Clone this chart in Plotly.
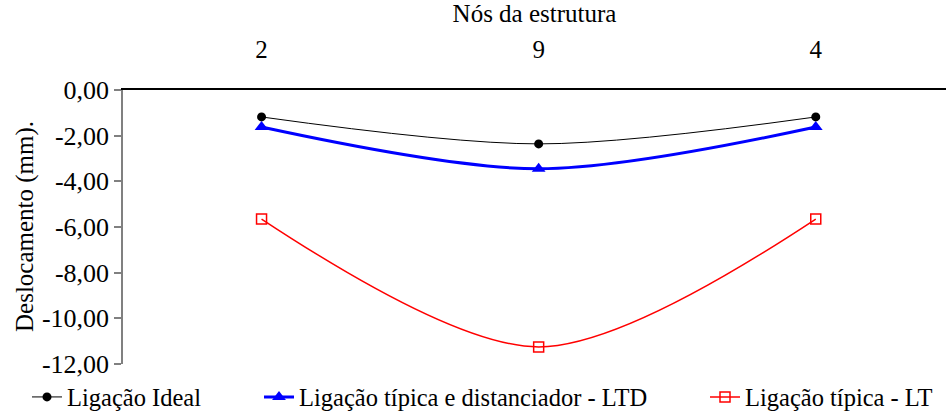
import plotly.graph_objects as go

# Nodes of the structure and vertical displacement (mm) for each connection type
nodes = ["2", "9", "4"]
ideal = [-1.18, -2.36, -1.18]
ltd = [-1.62, -3.45, -1.62]
lt = [-5.65, -11.25, -5.65]

y_ticks = [0, -2, -4, -6, -8, -10, -12]
y_tick_labels = ["0,00", "-2,00", "-4,00", "-6,00", "-8,00", "-10,00", "-12,00"]

FONT = "Liberation Serif"
FS = 25

fig = go.Figure()
fig.add_trace(go.Scatter(
    x=nodes, y=ideal, name="Ligação Ideal", mode="lines+markers",
    line=dict(color="black", width=1, shape="spline", smoothing=0.9),
    marker=dict(symbol="circle", size=9, color="black"),
    legend="legend",
))
fig.add_trace(go.Scatter(
    x=nodes, y=ltd, name="Ligação típica e distanciador - LTD", mode="lines+markers",
    line=dict(color="#0000ff", width=3, shape="spline", smoothing=0.9),
    marker=dict(symbol="triangle-up", size=12, color="#0000ff"),
    legend="legend2",
))
fig.add_trace(go.Scatter(
    x=nodes, y=lt, name="Ligação típica - LT", mode="lines+markers",
    line=dict(color="#ff0000", width=1.5, shape="spline", smoothing=0.9),
    marker=dict(symbol="square-open", size=10, color="#ff0000", line=dict(width=1.5)),
    legend="legend3",
))


def legend_box(left_px):
    return dict(
        xref="container", yref="container",
        x=left_px / 946, xanchor="left", y=1 - 397 / 412, yanchor="middle",
        font=dict(family=FONT, size=24.5, color="black"),
        bgcolor="rgba(0,0,0,0)", borderwidth=0, itemwidth=30,
    )


fig.update_layout(
    template="none",
    width=946, height=412,
    margin=dict(l=123, r=0, t=90, b=48, autoexpand=False),
    paper_bgcolor="white", plot_bgcolor="white",
    showlegend=True,
    legend=legend_box(27),
    legend2=legend_box(259),
    legend3=legend_box(705),
    xaxis=dict(
        type="category", side="top", range=[-0.5, 2.47],
        showline=True, linecolor="black", linewidth=1.5,
        showgrid=False, zeroline=False, ticks="",
        ticklabelstandoff=20,
        tickfont=dict(family=FONT, size=FS, color="black"),
        title=dict(text="Nós da estrutura", font=dict(family=FONT, size=FS, color="black"), standoff=9),
    ),
    yaxis=dict(
        range=[-12, 0], tickvals=y_ticks, ticktext=y_tick_labels,
        showline=True, linecolor="#808080", linewidth=1.5,
        ticks="outside", ticklen=7, tickcolor="#808080", tickwidth=1.5,
        showgrid=False, zeroline=False,
        tickfont=dict(family=FONT, size=26, color="black"),
    ),
    annotations=[dict(
        text="Deslocamento (mm).", textangle=-90, showarrow=False,
        xref="paper", yref="paper", x=(25 - 123) / 823, y=0.5,
        xanchor="center", yanchor="middle",
        font=dict(family=FONT, size=FS, color="black"),
    )],
)

fig.write_html("out.html")
